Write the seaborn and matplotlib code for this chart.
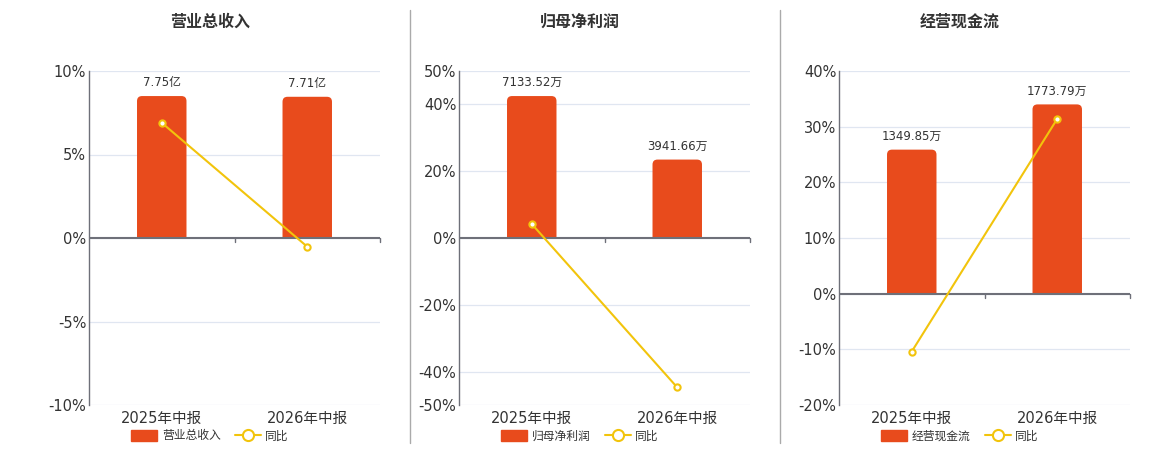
import pandas as pd
import seaborn as sns
import matplotlib.pyplot as plt
from matplotlib.lines import Line2D
from matplotlib.patches import Patch, FancyBboxPatch, Rectangle

# data
periods = ["2025年中报", "2026年中报"]
titles = ["营业总收入", "归母净利润", "经营现金流"]
revenue = [7.75, 7.71]            # 亿
revenue_labels = ["7.75亿", "7.71亿"]
revenue_yoy = [6.9, -0.52]
profit = [7133.52, 3941.66]       # 万
profit_labels = ["7133.52万", "3941.66万"]
profit_yoy = [4.2, -44.74]
cash = [1349.85, 1773.79]         # 万
cash_labels = ["1349.85万", "1773.79万"]
cash_yoy = [-10.4, 31.41]

yticks = [[-10, -5, 0, 5, 10], [-50, -40, -20, 0, 20, 40, 50], [-20, -10, 0, 10, 20, 30, 40]]

BAR = "#E84B1C"
LINE = "#F2C40C"
AXC = "#6E7079"
GRID = "#E0E6F1"

sns.set_theme(style="white")
plt.rcParams['font.family'] = ['DejaVu Sans', 'Noto Sans CJK SC']

fig = plt.figure(figsize=(11.6, 4.5), dpi=100)

lefts = [89, 459, 839]
centers = [210, 580, 960]
panels = [(revenue, revenue_labels, revenue_yoy), (profit, profit_labels, profit_yoy), (cash, cash_labels, cash_yoy)]
W_PX, H_PX = 291, 334

for i, (vals, labs, yoy) in enumerate(panels):
    ax = fig.add_axes([lefts[i] / 1160, 1 - 405 / 450, W_PX / 1160, H_PX / 450])
    axb = ax.twinx()
    lo, hi = yticks[i][0], yticks[i][-1]

    # bars on twin axis, zero aligned with the percent axis
    df = pd.DataFrame({"period": periods, "value": vals})
    top = max(vals) / 0.85
    bottom = top * lo / hi
    sns.barplot(data=df, x="period", y="value", ax=axb, color=BAR, width=0.34, saturation=1)
    axb.set_ylim(bottom, top)
    axb.set_xlim(-0.5, 1.5)

    # rounded tops
    xpp = 2 / W_PX
    ypp = (top - bottom) / H_PX
    r = 5 * xpp
    for p in list(axb.patches):
        x, w, h = p.get_x(), p.get_width(), p.get_height()
        p.set_visible(False)
        fb = FancyBboxPatch((x, -h * 0.2), w, h * 1.2, boxstyle=f"round,pad=0,rounding_size={r}",
                            mutation_aspect=ypp / xpp, facecolor=BAR, edgecolor="none", zorder=2)
        axb.add_patch(fb)
        clip = Rectangle((x - w, 0), 3 * w, top * 2, transform=axb.transData)
        fb.set_clip_path(clip)

    for v, t, xc in zip(vals, labs, [0, 1]):
        axb.annotate(t, (xc, v), xytext=(0, 5), textcoords="offset points",
                     ha="center", va="bottom", fontsize=8.5, color="#333333")

    # gridlines live on the bar axis so they sit under the bars
    axb.set_yticks([t * top / hi for t in yticks[i]])
    axb.tick_params(axis="y", length=0, labelright=False)
    axb.grid(axis="y", color=GRID, linewidth=0.9)
    axb.set_axisbelow(True)
    axb.set_ylabel("")
    axb.set_xlabel("")
    for s in axb.spines.values():
        s.set_visible(False)

    # yoy line on the main (percent) axis, drawn above the bars
    ldf = pd.DataFrame({"period": periods, "yoy": yoy})
    sns.lineplot(data=ldf, x="period", y="yoy", ax=ax, color=LINE, linewidth=1.5, marker="o",
                 markersize=4.5, markerfacecolor="white", markeredgecolor=LINE, markeredgewidth=1.5, zorder=5)
    ax.set_zorder(axb.get_zorder() + 1)
    ax.patch.set_visible(False)
    ax.set_ylim(lo, hi)
    ax.set_xlim(-0.5, 1.5)
    ax.set_yticks(yticks[i])
    ax.set_yticklabels([f"{t}%" for t in yticks[i]], fontsize=10.5, color="#333333")
    ax.axhline(0, color=AXC, linewidth=1.5, zorder=1)
    ax.set_xticks([0, 1])
    ax.set_xticklabels(periods, fontsize=10.5, color="#333333")
    ax.tick_params(axis="x", length=0, pad=4)
    ax.tick_params(axis="y", length=0, pad=2)
    # category boundary ticks on the zero line
    for xb in [0.5, 1.5]:
        ax.plot([xb, xb], [0, -(hi - lo) * 0.012], color=AXC, linewidth=1, clip_on=False)
    ax.set_xlabel("")
    ax.set_ylabel("")
    for k in ["top", "right", "bottom"]:
        ax.spines[k].set_visible(False)
    ax.spines["left"].set_color(AXC)
    ax.spines["left"].set_linewidth(1)

    fig.text(centers[i] / 1160, 1 - 22 / 450, titles[i], ha="center", va="center",
             fontsize=11.5, fontweight="bold", color="#333333")

    handles = [Patch(facecolor=BAR, edgecolor=BAR),
               Line2D([], [], color=LINE, linewidth=1.5, marker="o", markersize=8,
                      markerfacecolor="white", markeredgecolor=LINE, markeredgewidth=1.5)]
    fig.legend(handles, [titles[i], "同比"], loc="center", bbox_to_anchor=(centers[i] / 1160, 1 - 436 / 450),
               ncol=2, frameon=False, fontsize=8.5, handlelength=2.2, handleheight=1.0,
               columnspacing=1.2, handletextpad=0.4, labelcolor="#333333")

# panel separators
for xs in [410, 780]:
    fig.add_artist(Line2D([xs / 1160, xs / 1160], [1 - 10 / 450, 1 - 443 / 450], color="#AAAAAA", linewidth=1))

plt.savefig("out.png", dpi=100)
plt.close()
